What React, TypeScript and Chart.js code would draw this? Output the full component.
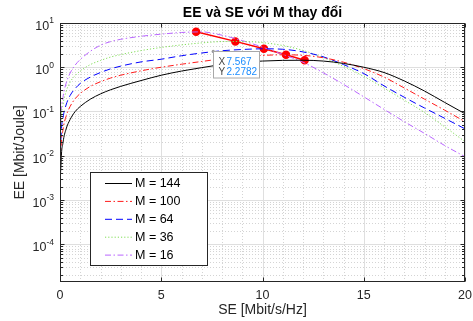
import React, { useEffect, useRef } from 'react';
import { Chart, registerables } from 'chart.js';

Chart.register(...registerables);

// ---- data ----
const SE = [0.00005, 0.0005, 0.005, 0.05, 0.15, 0.3, 0.5, 0.75, 1, 1.5, 2, 2.5, 3, 4, 5, 6, 7, 8, 9, 10, 11, 12, 13, 14, 15, 16, 17, 18, 19, 20];

const EE_M144 = [6.5e-6, 6.5e-5, 6.5e-4, 0.0065, 0.02, 0.04, 0.066, 0.1, 0.13, 0.19, 0.25, 0.31, 0.37, 0.5, 0.66, 0.82, 0.98, 1.15, 1.29, 1.38, 1.43, 1.44, 1.38, 1.22, 1.0, 0.76, 0.49, 0.29, 0.16, 0.089];
const EE_M100 = [1.3e-5, 1.3e-4, 0.0013, 0.013, 0.039, 0.078, 0.13, 0.195, 0.255, 0.37, 0.47, 0.57, 0.66, 0.83, 1.0, 1.17, 1.35, 1.55, 1.72, 1.85, 1.91, 1.86, 1.64, 1.3, 0.93, 0.6, 0.34, 0.19, 0.107, 0.059];
const EE_M64 = [2.4e-5, 2.4e-4, 0.0024, 0.024, 0.071, 0.14, 0.23, 0.33, 0.43, 0.6, 0.76, 0.92, 1.06, 1.32, 1.52, 1.82, 2.1, 2.36, 2.52, 2.61, 2.55, 2.22, 1.72, 1.15, 0.72, 0.38, 0.21, 0.12, 0.07, 0.0405];
const EE_M36 = [5e-5, 5e-4, 0.005, 0.05, 0.145, 0.28, 0.46, 0.65, 0.82, 1.15, 1.42, 1.7, 1.93, 2.38, 2.8, 3.2, 3.55, 3.8, 3.82, 3.6, 3.1, 2.4, 1.65, 1.05, 0.62, 0.34, 0.18, 0.095, 0.045, 0.0208];
const EE_M16 = [7.5e-5, 7.5e-4, 0.0075, 0.07, 0.21, 0.43, 0.74, 1.12, 1.5, 2.3, 3.15, 3.8, 4.28, 5.0, 5.6, 6.1, 6.3, 5.3, 4.0, 2.85, 1.95, 1.3, 0.75, 0.41, 0.215, 0.112, 0.059, 0.032, 0.017, 0.0095];

const SERIES_LABELS = ['M = 144', 'M = 100', 'M = 64', 'M = 36', 'M = 16'];

const PEAK_SE = [6.72, 8.66, 10.07, 11.16, 12.08];
const PEAK_EE = [6.34, 3.84, 2.61, 1.91, 1.44];

const X_TICKS = [0, 5, 10, 15, 20];
const X_TICK_LABELS = ['0', '5', '10', '15', '20'];
const X_MINOR = [1, 2, 3, 4, 6, 7, 8, 9, 11, 12, 13, 14, 16, 17, 18, 19];
const Y_TICK_EXP = [1, 0, -1, -2, -3, -4];
const Y_MINOR_MANTISSA = [2, 3, 4, 5, 6, 7, 8, 9];

const TITLE = 'EE và SE với M thay đổi';
const TIP_X = [7.567];
const TIP_Y = [2.2782];
const TIP_TEXT_X = ['7.567'];
const TIP_TEXT_Y = ['2.2782'];

const FONT = '"Liberation Sans", Arial, Helvetica, sans-serif';
const AXIS_COLOR = '#262626';

const STYLES = [
  { color: '#000000', dash: [] as number[] },
  { color: '#ff1a1a', dash: [6, 2.5, 1.5, 2.5] },
  { color: '#0000ff', dash: [7, 4] },
  { color: '#7fdd55', dash: [1.2, 2] },
  { color: '#b966ff', dash: [6, 2.5, 1.5, 2.5] },
];

const SERIES = [EE_M144, EE_M100, EE_M64, EE_M36, EE_M16];

const decorPlugin = {
  id: 'decor',
  beforeDatasetsDraw(chart: any) {
    const { ctx, chartArea: a, scales } = chart;
    const xs = scales.x, ys = scales.y;
    ctx.save();
    ctx.strokeStyle = '#d4d4d4';
    ctx.lineWidth = 1;
    ctx.setLineDash([1, 2]);
    for (let e = -6; e <= 1; e++) {
      for (const m of Y_MINOR_MANTISSA) {
        const v = m * Math.pow(10, e);
        const py = Math.round(ys.getPixelForValue(v)) + 0.5;
        if (py <= a.top || py >= a.bottom) continue;
        ctx.beginPath(); ctx.moveTo(a.left, py); ctx.lineTo(a.right, py); ctx.stroke();
      }
    }
    for (const v of X_MINOR) {
      const px = Math.round(xs.getPixelForValue(v)) + 0.5;
      ctx.beginPath(); ctx.moveTo(px, a.top); ctx.lineTo(px, a.bottom); ctx.stroke();
    }
    ctx.setLineDash([]);
    ctx.strokeStyle = '#dfdfdf';
    for (const e of Y_TICK_EXP) {
      const py = Math.round(ys.getPixelForValue(Math.pow(10, e))) + 0.5;
      ctx.beginPath(); ctx.moveTo(a.left, py); ctx.lineTo(a.right, py); ctx.stroke();
    }
    for (const v of X_TICKS) {
      const px = Math.round(xs.getPixelForValue(v)) + 0.5;
      ctx.beginPath(); ctx.moveTo(px, a.top); ctx.lineTo(px, a.bottom); ctx.stroke();
    }
    ctx.restore();
  },
  afterDatasetsDraw(chart: any) {
    const { ctx, chartArea: a, scales } = chart;
    const xs = scales.x, ys = scales.y;
    ctx.save();
    ctx.strokeStyle = AXIS_COLOR;
    ctx.lineWidth = 1;
    ctx.setLineDash([]);
    const L = Math.round(a.left) + 0.5, R = Math.round(a.right) - 0.5;
    const T = Math.round(a.top) + 0.5, B = Math.round(a.bottom) - 0.5;
    ctx.strokeRect(L, T, R - L, B - T);
    ctx.beginPath();
    for (const v of X_TICKS) {
      const px = Math.round(xs.getPixelForValue(v)) + 0.5;
      ctx.moveTo(px, B); ctx.lineTo(px, B - 4);
      ctx.moveTo(px, T); ctx.lineTo(px, T + 4);
    }
    for (const e of Y_TICK_EXP) {
      const py = Math.round(ys.getPixelForValue(Math.pow(10, e))) + 0.5;
      ctx.moveTo(L, py); ctx.lineTo(L + 4, py);
      ctx.moveTo(R, py); ctx.lineTo(R - 4, py);
    }
    for (let e = -6; e <= 1; e++) {
      for (const m of Y_MINOR_MANTISSA) {
        const v = m * Math.pow(10, e);
        const py = Math.round(ys.getPixelForValue(v)) + 0.5;
        if (py <= a.top || py >= a.bottom) continue;
        ctx.moveTo(L, py); ctx.lineTo(L + 2.5, py);
        ctx.moveTo(R, py); ctx.lineTo(R - 2.5, py);
      }
    }
    ctx.stroke();

    // title
    ctx.fillStyle = '#000000';
    ctx.font = `bold 14px ${FONT}`;
    ctx.textAlign = 'center';
    ctx.textBaseline = 'middle';
    ctx.fillText(TITLE, (a.left + a.right) / 2, 12.7);

    // x tick labels
    ctx.fillStyle = AXIS_COLOR;
    ctx.font = `12.5px ${FONT}`;
    ctx.textAlign = 'center';
    ctx.textBaseline = 'middle';
    X_TICKS.forEach((v, i) => {
      ctx.fillText(X_TICK_LABELS[i], xs.getPixelForValue(v), a.bottom + 13.5);
    });

    // y tick labels with superscript exponents
    for (const e of Y_TICK_EXP) {
      const py = ys.getPixelForValue(Math.pow(10, e));
      const sup = String(e);
      ctx.font = `8.5px ${FONT}`;
      const ws = ctx.measureText(sup).width;
      const right = a.left - 6;
      ctx.textBaseline = 'middle';
      ctx.textAlign = 'left';
      ctx.fillText(sup, right - ws, py - 2);
      ctx.font = `12.5px ${FONT}`;
      ctx.textAlign = 'right';
      ctx.fillText('10', right - ws, py + 3.5);
    }

    // legend
    const lx = 90.5, ly = 172.5, lw = 117, lh = 93;
    ctx.fillStyle = '#ffffff';
    ctx.fillRect(lx, ly, lw, lh);
    ctx.strokeStyle = '#262626';
    ctx.lineWidth = 1;
    ctx.strokeRect(lx, ly, lw, lh);
    for (let i = 0; i < SERIES_LABELS.length; i++) {
      const yy = 183.5 + i * 17.9;
      ctx.strokeStyle = STYLES[i].color;
      ctx.setLineDash(STYLES[i].dash);
      ctx.beginPath(); ctx.moveTo(105, yy); ctx.lineTo(132, yy); ctx.stroke();
      ctx.setLineDash([]);
      ctx.fillStyle = '#000000';
      ctx.font = `12.5px ${FONT}`;
      ctx.textAlign = 'left';
      ctx.textBaseline = 'middle';
      ctx.fillText(SERIES_LABELS[i], 135, yy + 0.5);
    }

    // datatip
    const tx = xs.getPixelForValue(TIP_X[0]);
    const ty = ys.getPixelForValue(TIP_Y[0]);
    ctx.fillStyle = '#9a9a9a';
    ctx.beginPath(); ctx.arc(tx, ty, 1.6, 0, Math.PI * 2); ctx.fill();
    const bx = Math.round(tx) + 0.5, by = Math.round(ty) + 0.5;
    ctx.fillStyle = '#ffffff';
    ctx.fillRect(bx, by, 46, 26.5);
    ctx.strokeStyle = '#a8a8a8';
    ctx.strokeRect(bx, by, 46, 26.5);
    ctx.font = `10px ${FONT}`;
    ctx.textAlign = 'left';
    ctx.textBaseline = 'middle';
    ctx.fillStyle = '#444444';
    ctx.fillText('X', bx + 5, by + 10.5);
    ctx.fillText('Y', bx + 5, by + 20.5);
    ctx.fillStyle = '#1a8cff';
    ctx.fillText(TIP_TEXT_X[0], bx + 13, by + 10.5);
    ctx.fillText(TIP_TEXT_Y[0], bx + 13, by + 20.5);
    ctx.restore();
  },
};

export default function App() {
  const ref = useRef<HTMLCanvasElement | null>(null);
  useEffect(() => {
    document.body.style.margin = '0';
    const canvas = ref.current;
    if (!canvas) return;
    const datasets: any[] = SERIES.map((vals, i) => ({
      label: SERIES_LABELS[i],
      data: SE.map((s, j) => ({ x: s, y: vals[j] })),
      borderColor: STYLES[i].color,
      borderDash: STYLES[i].dash,
      borderWidth: 1,
      pointRadius: 0,
      tension: 0.3,
      cubicInterpolationMode: 'monotone',
      fill: false,
    }));
    datasets.push({
      label: 'peak',
      data: PEAK_SE.map((s, j) => ({ x: s, y: PEAK_EE[j] })),
      borderColor: '#ff0000',
      backgroundColor: '#ff0000',
      pointBackgroundColor: '#ff0000',
      pointBorderColor: '#ff0000',
      pointRadius: 3.5,
      borderWidth: 1.5,
      tension: 0,
      fill: false,
    });
    const chart = new Chart(canvas, {
      type: 'line',
      data: { datasets },
      options: {
        animation: false,
        responsive: false,
        maintainAspectRatio: false,
        events: [],
        layout: { padding: { left: 0, right: 8, top: 23, bottom: 0 } },
        plugins: {
          legend: { display: false },
          tooltip: { enabled: false },
          title: { display: false },
        },
        scales: {
          x: {
            type: 'linear',
            min: 0,
            max: 20,
            grid: { display: false, drawTicks: false },
            border: { display: false },
            ticks: { display: false, stepSize: 5 },
            title: {
              display: true,
              text: 'SE [Mbit/s/Hz]',
              color: AXIS_COLOR,
              font: { family: FONT, size: 14 },
              padding: { top: 0, bottom: 2.6 },
            },
            afterFit: (s: any) => { s.height = 39; },
          },
          y: {
            type: 'logarithmic',
            min: 1.4e-5,
            max: 10,
            grid: { display: false, drawTicks: false },
            border: { display: false },
            ticks: { display: false },
            title: {
              display: true,
              text: 'EE [Mbit/Joule]',
              color: AXIS_COLOR,
              font: { family: FONT, size: 14 },
              padding: { top: 11.6, bottom: 0 },
            },
            afterFit: (s: any) => { s.width = 60; },
          },
        },
      } as any,
      plugins: [decorPlugin],
    });
    return () => chart.destroy();
  }, []);
  return <canvas ref={ref} width={473} height={321} style={{ display: 'block' }} />;
}
